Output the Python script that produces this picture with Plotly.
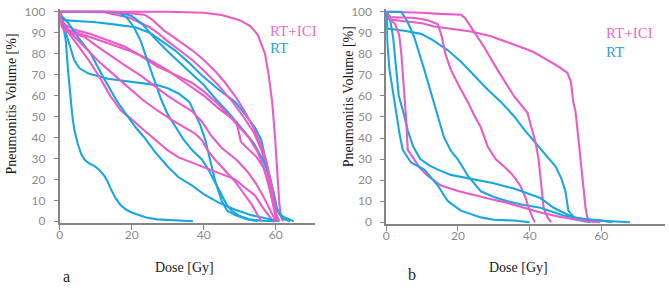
import plotly.graph_objects as go

# ---------------- Panel a (left) ----------------
a_ici_1_dose = [0, 10, 20, 30, 40, 45, 50, 53, 55, 57, 58, 59, 59.8, 60.5, 61, 61.5, 62]
a_ici_1_vol = [100, 100, 100, 100, 99.5, 98.5, 96, 93, 89, 80, 70, 57, 40, 20, 8, 2, 0]
a_ici_2_dose = [0, 5, 10, 12.4, 16, 19.6, 22, 25, 27.5, 29.9, 33, 36.8, 40, 44, 48, 51, 54, 56, 57.5, 58.8, 59.8, 60.5]
a_ici_2_vol = [100, 100, 100, 99.8, 98.5, 97, 95, 92.6, 89.5, 86, 82, 77, 72, 65, 57, 50, 42, 34, 25, 15, 6, 0]
a_ici_3_dose = [0, 1, 5, 10, 15, 20, 25, 30, 35, 40, 44, 47, 49, 49.8, 50.3, 52, 54.5, 56.5, 58, 59.3, 60, 60.5]
a_ici_3_vol = [100, 92, 90, 87, 84, 81, 77, 72, 66, 60, 54, 50, 47.5, 42, 38, 35, 31, 26, 18, 8, 2, 0]
a_ici_4_dose = [0, 0.5, 1.4, 4, 8.6, 13, 18, 22, 27, 32, 36.8, 40, 44, 47.5, 50, 52.5, 55, 57, 58.5, 59.5, 60.5]
a_ici_4_vol = [100, 96, 94, 91.5, 89.4, 86.5, 83.4, 79.5, 74, 70, 66, 62, 56, 49.5, 45, 40, 33, 24, 14, 6, 0]
a_ici_5_dose = [0, 0.5, 2, 5, 8, 11, 14, 16.9, 19.4, 23.5, 27, 29.9, 33, 36.8, 41.5, 45, 48.7, 51.5, 54.2, 56.2, 58, 59, 60]
a_ici_5_vol = [100, 95, 91, 84, 77, 69, 60, 53, 49.5, 43.3, 38, 34, 30.5, 28, 25, 22.5, 20, 16, 12.4, 7, 3, 0.5, 0]
a_ici_6_dose = [0, 10, 15.2, 20, 23.5, 25.5, 27, 29, 31.5, 34, 36.8, 40, 43, 46, 49, 51.5, 54, 56, 57.5, 58.7, 59.5, 60.2, 61]
a_ici_6_vol = [100, 100, 100, 99.2, 98.6, 96.5, 94, 91, 88, 85, 81.6, 77, 72, 66, 59, 52, 44, 36, 28, 18, 9, 3, 0]
a_ici_7_dose = [0, 0.5, 1.4, 4, 6.9, 10, 13.3, 18, 22.4, 26, 29.9, 33, 36.8, 39.5, 42, 45, 49, 52, 54.5, 56.5, 58, 59.3, 60]
a_ici_7_vol = [100, 93, 90.8, 89.5, 88, 84, 80, 74.5, 69.6, 65, 60, 56.5, 52.5, 47.5, 41, 35, 29.5, 24, 18, 12, 7, 2.5, 0]
a_ici_8_dose = [0, 0.5, 3, 7, 11, 15, 19, 23, 27, 31, 35, 37.5, 39.5, 41, 43.1, 46, 48.7, 51, 53.4, 54.8, 56]
a_ici_8_vol = [100, 96, 90, 83, 76, 70, 64, 58, 53, 48.5, 44.5, 42, 38.7, 34, 29.5, 24, 19, 13.5, 7.8, 3.5, 0]

a_rt_1_dose = [0, 0.5, 1, 1.7, 2.3, 3.4, 4, 5, 6, 6.9, 8, 9.7, 11, 12.4, 13.3, 14.1, 15.5, 16.9, 18.5, 20, 21.6, 24, 27, 31, 37]
a_rt_1_vol = [100, 97, 93, 86, 72, 52, 44, 37, 32, 29.5, 27.8, 26.3, 24.5, 21.7, 19, 15.7, 11, 7.8, 5.5, 4.2, 3.2, 1.8, 0.9, 0.5, 0]
a_rt_2_dose = [0, 0.5, 1.7, 3, 4, 5.5, 8, 13.3, 20, 27, 30, 33, 36, 37.3, 39, 40.4, 41.8, 43.2, 45, 46.5, 48.7, 52, 55]
a_rt_2_vol = [100, 96, 90, 82, 77, 73, 70.5, 68, 66.5, 65, 63.5, 61, 57, 52.5, 46, 39, 29.5, 19, 9.7, 5, 3, 1, 0]
a_rt_3_dose = [0, 0.3, 1, 5, 10, 15, 21, 25, 28.5, 32, 36, 39.5, 44, 48.7, 51.5, 54.2, 56, 57, 58, 59, 59.7, 61, 62.5, 65]
a_rt_3_vol = [100, 97, 96, 95.5, 95, 94, 92.6, 90, 86, 81.6, 75.5, 69.6, 63, 57, 51, 44.7, 38.7, 31, 23.5, 15, 7.8, 3.5, 1.8, 0]
a_rt_4_dose = [0, 14, 16.5, 18.5, 20.5, 22.5, 24.5, 26.5, 28.2, 30, 32.5, 34.5, 37, 39.5, 41.5, 43, 45, 46.5, 47.8, 50, 52.5, 56, 60]
a_rt_4_vol = [100, 100, 99.5, 97.5, 93, 86, 76, 66, 58, 51, 44, 38.7, 33.5, 29.5, 24, 19, 12, 7.5, 5, 2.5, 1, 0.3, 0]
a_rt_5_dose = [0, 0.5, 2.2, 5, 8.6, 12, 16, 18.5, 21, 23.5, 26.5, 29.9, 33, 36.8, 40, 44, 48.7, 53, 58, 61]
a_rt_5_vol = [100, 98, 95, 88, 80, 69, 57, 51, 45, 40, 33, 26.3, 21, 17, 13, 9, 5.5, 3, 1, 0]
a_rt_6_dose = [0, 12, 17, 20, 23, 26, 30, 35, 40, 43.5, 46.5, 50, 54, 56.5, 58.3, 59.5, 60.3, 61.2, 62.2, 64]
a_rt_6_vol = [100, 100, 99.5, 98, 94, 88, 81, 73, 65, 58, 52.5, 45.5, 37, 29, 21.7, 13, 6.5, 3, 1, 0]

# ---------------- Panel b (right) ----------------
b_ici_1_dose = [0, 0.3, 5, 10, 13.3, 18, 23.6, 29, 33, 37.5, 41, 45, 48, 50.5, 51.5, 52.2, 52.8, 53.6, 54.2, 54.8, 55.6, 56.1, 57, 58]
b_ici_1_vol = [100, 96.5, 95.5, 94.5, 93, 92, 90.6, 88.5, 86, 83.5, 81, 77, 74, 71, 67, 57, 52.8, 40, 30, 20, 6.9, 2.3, 0.5, 0]
b_ici_2_dose = [0, 5, 10, 15, 20.8, 22, 23.6, 25.5, 27.2, 31, 35.6, 38, 39.4, 40.5, 41.7, 42.5, 43, 43.5, 43.9, 45, 46]
b_ici_2_vol = [100, 99.8, 99.5, 99, 98.6, 97, 92.7, 88, 83.5, 72.5, 60, 55, 52, 45, 37.6, 30, 22, 14, 6.9, 2.3, 0]
b_ici_3_dose = [0, 0.5, 8, 11.7, 14.4, 15.5, 16.5, 18, 20.5, 22.8, 24.5, 26.4, 28.3, 30.5, 32.8, 35, 36.1, 37.5, 38.9, 39.7, 40.8, 41.5]
b_ici_3_vol = [100, 97.5, 97, 96, 94, 88, 80, 72.5, 64, 57, 51, 45, 36, 30, 26.6, 23, 20.6, 17, 11.5, 6.9, 2.3, 0]
b_ici_4_dose = [0, 1.4, 2.5, 3.6, 4.2, 4.6, 5.5, 6, 7.8, 9.5, 11.6, 15.3, 20, 24.5, 29, 33.8, 38, 43, 48, 52.2, 56, 59.7]
b_ici_4_vol = [100, 96, 94, 89, 80, 72, 50, 34.4, 29.8, 25.5, 22, 17.4, 14.8, 12.8, 11, 9.2, 7, 4.6, 2.7, 1.4, 0.6, 0]

b_rt_1_dose = [0, 0.3, 5, 9.7, 13, 17.2, 21, 24.4, 28, 31.9, 35.6, 38.5, 41.7, 44.5, 47.2, 48.8, 50, 50.8, 52.8, 55, 57]
b_rt_1_vol = [100, 92, 91, 89.5, 86.5, 81.7, 76, 69.7, 63.5, 57.3, 50.5, 44, 37.6, 32, 26.6, 21, 14.7, 5.5, 1.4, 0.5, 0]
b_rt_2_dose = [0, 4.2, 6, 7.8, 10.6, 13.3, 14.4, 16.1, 18, 20, 22.8, 26.4, 30, 33.9, 38, 43, 49.4, 55, 59.7, 63]
b_rt_2_vol = [100, 100, 95, 88, 72.5, 57, 50.5, 40.4, 34, 29.8, 22, 14.7, 12, 10, 8.3, 6.9, 3.2, 1.5, 0.9, 0]
b_rt_3_dose = [0, 0.9, 1.9, 2.8, 3.5, 4.7, 6, 7.5, 9.5, 12, 14.4, 18, 24.4, 30, 35.6, 40, 43, 46.7, 50, 52.2, 57, 62, 68]
b_rt_3_vol = [100, 98, 88, 72.5, 60, 52.8, 43.6, 36, 30, 27, 25, 22.5, 20.3, 18.5, 16, 13.5, 11.5, 6.9, 4, 2.3, 1, 0.4, 0]
b_rt_4_dose = [0, 0.3, 0.9, 2.3, 3.7, 4.6, 6.9, 10.6, 14.4, 17.2, 20.8, 26.4, 30, 35.6, 40]
b_rt_4_vol = [100, 85, 72.5, 57, 42, 34.4, 28.4, 25, 17.4, 10, 5.5, 2.3, 1.2, 0.8, 0]

x_ticks = [0, 20, 40, 60]
y_ticks = [0, 10, 20, 30, 40, 50, 60, 70, 80, 90, 100]
legend_labels = ["RT+ICI", "RT"]
y_title = "Pneumonitis Volume [%]"
x_title = "Dose [Gy]"
panel_labels = ["a", "b"]

PINK = "#EA5AC8"
BLUE = "#1AA7E0"
W, H = 669, 290

fig = go.Figure()

def add(dose, vol, color, xa, ya):
    fig.add_trace(go.Scatter(x=dose, y=vol, mode="lines", xaxis=xa, yaxis=ya,
                             line=dict(color=color, width=2.1), hoverinfo="skip",
                             showlegend=False))

a_series = [
    (a_ici_1_dose, a_ici_1_vol, PINK), (a_rt_3_dose, a_rt_3_vol, BLUE),
    (a_ici_2_dose, a_ici_2_vol, PINK), (a_rt_6_dose, a_rt_6_vol, BLUE),
    (a_ici_3_dose, a_ici_3_vol, PINK), (a_rt_2_dose, a_rt_2_vol, BLUE),
    (a_ici_4_dose, a_ici_4_vol, PINK), (a_rt_4_dose, a_rt_4_vol, BLUE),
    (a_ici_5_dose, a_ici_5_vol, PINK), (a_rt_5_dose, a_rt_5_vol, BLUE),
    (a_ici_6_dose, a_ici_6_vol, PINK), (a_rt_1_dose, a_rt_1_vol, BLUE),
    (a_ici_7_dose, a_ici_7_vol, PINK), (a_ici_8_dose, a_ici_8_vol, PINK),
]
for d, v, c in a_series:
    add(d, v, c, "x", "y")

b_series = [
    (b_ici_1_dose, b_ici_1_vol, PINK), (b_rt_1_dose, b_rt_1_vol, BLUE),
    (b_ici_2_dose, b_ici_2_vol, PINK), (b_rt_2_dose, b_rt_2_vol, BLUE),
    (b_ici_3_dose, b_ici_3_vol, PINK), (b_rt_3_dose, b_rt_3_vol, BLUE),
    (b_ici_4_dose, b_ici_4_vol, PINK), (b_rt_4_dose, b_rt_4_vol, BLUE),
]
for d, v, c in b_series:
    add(d, v, c, "x2", "y2")

AX = "#858585"
TICKFONT = dict(family="Lato", size=12, color="#8c8c8c")
common_x = dict(tickvals=x_ticks, showline=True, linecolor=AX, linewidth=1.7,
                ticks="outside", ticklen=5, tickcolor=AX, tickwidth=1.3,
                showgrid=False, zeroline=False, layer="below traces",
                tickfont=TICKFONT, fixedrange=True, ticklabelstandoff=-5,
                ticklabeloverflow="allow")
common_y = dict(tickvals=y_ticks, showline=True, linecolor=AX, linewidth=1.7,
                ticks="outside", ticklen=4, tickcolor=AX, tickwidth=1.3,
                showgrid=False, zeroline=False, layer="below traces",
                tickfont=TICKFONT, range=[-0.8, 101.2], fixedrange=True,
                ticklabelstandoff=6, ticklabeloverflow="allow")

fig.update_layout(
    width=W, height=H, autosize=False,
    margin=dict(l=0, r=0, t=0, b=0),
    paper_bgcolor="white", plot_bgcolor="white",
    xaxis=dict(domain=[57 / W, 313 / W], range=[0, 70.78], anchor="y", **common_x),
    yaxis=dict(domain=[0.2216, 0.9848], anchor="x", **common_y),
    xaxis2=dict(domain=[385 / W, 665 / W], range=[0, 77.78], anchor="y2", **common_x),
    yaxis2=dict(domain=[0.2181, 0.9849], anchor="x2", **common_y),
)

SERIF = "Liberation Serif"

def ann(text, px, py, size, color="#1a1a1a", angle=0, xanchor="center"):
    fig.add_annotation(text=text, x=px / W, y=1 - py / H, xref="paper", yref="paper",
                       showarrow=False, textangle=angle, xanchor=xanchor, yanchor="middle",
                       font=dict(family=SERIF, size=size, color=color))

ann(y_title, 9, 102, 14, angle=-90)
ann(y_title, 347, 95, 14, angle=-90)
ann(x_title, 182, 272, 14)
ann(x_title, 518, 272, 14)
ann(panel_labels[0], 64, 281, 16)
ann(panel_labels[1], 411, 279, 16)
ann(legend_labels[0], 266, 27, 15, color="#E56FCB", xanchor="left")
ann(legend_labels[1], 266, 45, 15, color="#27A4D8", xanchor="left")
ann(legend_labels[0], 604, 29, 15, color="#E56FCB", xanchor="left")
ann(legend_labels[1], 604, 49, 15, color="#27A4D8", xanchor="left")

fig.write_html("out.html", config={"displayModeBar": False},
               post_script="document.body.style.margin='0';document.body.style.overflow='hidden';")
